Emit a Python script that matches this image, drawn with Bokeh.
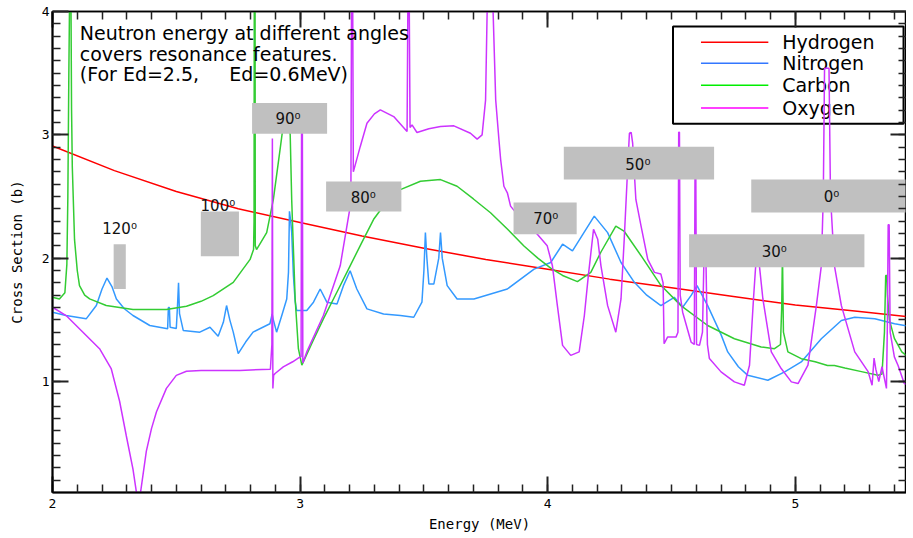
import numpy as np
from bokeh.plotting import figure
from bokeh.models import FixedTicker, LinearAxis, Range1d
from bokeh.core.properties import value
from bokeh.embed import file_html
from bokeh.resources import INLINE

# ---------------- data ----------------
hydrogen_E = [2.0, 2.25, 2.5, 2.75, 3.0, 3.25, 3.5, 3.75, 4.0, 4.25, 4.5, 4.75, 5.0, 5.25, 5.48]
hydrogen_s = [2.91, 2.71, 2.54, 2.40, 2.29, 2.18, 2.08, 1.99, 1.91, 1.83, 1.76, 1.69, 1.62, 1.57, 1.52]

carbon_E = [2.0, 2.028, 2.05, 2.058, 2.062, 2.066, 2.070, 2.074, 2.077, 2.080, 2.089, 2.10, 2.109, 2.13,
            2.15, 2.217, 2.325, 2.46, 2.541, 2.60, 2.649, 2.73, 2.798, 2.812, 2.814, 2.815, 2.818, 2.819,
            2.824, 2.865, 2.892, 2.919, 2.94, 2.955, 2.96, 2.966, 2.98, 2.993, 3.007, 3.05, 3.094, 3.15,
            3.202, 3.25, 3.297, 3.35, 3.405, 3.486, 3.567, 3.634, 3.70, 3.769, 3.84, 3.904, 3.96, 4.012,
            4.06, 4.12, 4.174, 4.215, 4.275, 4.308, 4.377, 4.457, 4.538, 4.646, 4.754, 4.862, 4.916, 4.94,
            4.945, 4.948, 4.952, 4.97, 5.024, 5.08, 5.13, 5.158, 5.20, 5.267, 5.334, 5.35, 5.36, 5.365,
            5.37, 5.372, 5.38, 5.40, 5.43, 5.48]
carbon_s = [1.683, 1.669, 1.72, 1.95, 2.5, 3.5, 4.3, 4.3, 3.2, 2.74, 2.15, 1.90, 1.777, 1.70,
            1.67, 1.616, 1.583, 1.583, 1.61, 1.65, 1.696, 1.804, 1.99, 2.07, 2.3, 4.3, 4.3, 2.1,
            2.07, 2.207, 2.476, 2.88, 3.2, 3.1, 3.0, 2.476, 1.67, 1.266, 1.132, 1.32, 1.508, 1.73,
            1.938, 2.13, 2.315, 2.46, 2.556, 2.624, 2.637, 2.583, 2.48, 2.368, 2.23, 2.099, 2.00, 1.92,
            1.86, 1.81, 1.885, 2.05, 2.26, 2.22, 2.02, 1.78, 1.615, 1.454, 1.347, 1.28, 1.266, 1.30,
            1.6, 2.05, 1.4, 1.24, 1.185, 1.16, 1.13, 1.13, 1.11, 1.08, 1.05, 1.06, 1.4, 1.86,
            1.86, 1.7, 1.5, 1.35, 1.24, 1.16]

nitrogen_E = [2.0, 2.055, 2.136, 2.177, 2.20, 2.22, 2.24, 2.258, 2.29, 2.325, 2.393, 2.465, 2.468, 2.472,
              2.475, 2.50, 2.505, 2.509, 2.513, 2.528, 2.595, 2.636, 2.669, 2.69, 2.703, 2.716, 2.73, 2.75,
              2.78, 2.81, 2.878, 2.884, 2.887, 2.892, 2.905, 2.926, 2.946, 2.953, 2.957, 2.962, 2.966, 2.973,
              2.98, 2.986, 3.027, 3.054, 3.081, 3.108, 3.149, 3.175, 3.202, 3.229, 3.27, 3.337, 3.405, 3.459,
              3.492, 3.50, 3.506, 3.512, 3.52, 3.54, 3.56, 3.567, 3.574, 3.594, 3.634, 3.702, 3.837, 3.945,
              4.012, 4.06, 4.10, 4.188, 4.242, 4.296, 4.35, 4.40, 4.457, 4.511, 4.545, 4.58, 4.603, 4.646,
              4.70, 4.727, 4.77, 4.808, 4.889, 4.957, 5.024, 5.105, 5.186, 5.24, 5.321, 5.401, 5.48]
nitrogen_s = [1.562, 1.535, 1.508, 1.616, 1.75, 1.839, 1.77, 1.669, 1.59, 1.535, 1.454, 1.427, 1.60, 1.60,
              1.44, 1.43, 1.62, 1.80, 1.55, 1.414, 1.40, 1.44, 1.366, 1.48, 1.616, 1.50, 1.40, 1.226,
              1.32, 1.40, 1.468, 1.52, 1.548, 1.50, 1.40, 1.535, 1.669, 1.885, 2.38, 2.30, 2.21, 1.857,
              1.65, 1.575, 1.575, 1.643, 1.75, 1.643, 1.629, 1.777, 1.898, 1.75, 1.589, 1.548, 1.535, 1.521,
              1.643, 1.9, 2.207, 2.0, 1.79, 1.79, 2.0, 2.207, 2.0, 1.777, 1.669, 1.669, 1.75, 1.911,
              1.965, 2.113, 2.059, 2.341, 2.207, 1.965, 1.804, 1.70, 1.615, 1.683, 1.602, 1.70, 1.777, 1.615,
              1.38, 1.24, 1.12, 1.05, 1.01, 1.078, 1.159, 1.347, 1.495, 1.521, 1.508, 1.468, 1.44]

oxygen_E = [2.0, 2.055, 2.123, 2.19, 2.237, 2.271, 2.298, 2.325, 2.345, 2.352, 2.379, 2.40, 2.42, 2.46,
            2.50, 2.541, 2.60, 2.757, 2.88, 2.886, 2.888, 2.890, 2.893, 2.899, 2.932, 2.97, 3.0, 3.004,
            3.006, 3.009, 3.011, 3.027, 3.094, 3.162, 3.189, 3.205, 3.208, 3.212, 3.215, 3.243, 3.27, 3.30,
            3.324, 3.378, 3.432, 3.436, 3.440, 3.444, 3.452, 3.472, 3.52, 3.567, 3.621, 3.688, 3.715, 3.735,
            3.749, 3.758, 3.775, 3.79, 3.803, 3.81, 3.823, 3.837, 3.85, 3.904, 3.958, 3.998, 4.019, 4.039,
            4.06, 4.093, 4.127, 4.148, 4.164, 4.185, 4.202, 4.215, 4.242, 4.275, 4.296, 4.309, 4.32, 4.33,
            4.337, 4.343, 4.356, 4.377, 4.404, 4.431, 4.457, 4.466, 4.47, 4.484, 4.518, 4.526, 4.529, 4.532,
            4.535, 4.545, 4.579, 4.592, 4.595, 4.598, 4.601, 4.613, 4.625, 4.632, 4.638, 4.645, 4.653, 4.70,
            4.754, 4.794, 4.815, 4.831, 4.842, 4.849, 4.855, 4.869, 4.903, 4.943, 4.984, 5.011, 5.051, 5.085,
            5.105, 5.113, 5.118, 5.136, 5.142, 5.158, 5.186, 5.24, 5.294, 5.31, 5.318, 5.325, 5.337, 5.35,
            5.368, 5.372, 5.375, 5.379, 5.383, 5.40, 5.415, 5.44, 5.48]
oxygen_s = [1.602, 1.535, 1.40, 1.266, 1.105, 0.84, 0.56, 0.29, 0.02, 0.05, 0.435, 0.62, 0.755, 0.944,
            1.05, 1.083, 1.09, 1.09, 1.10, 1.3, 2.97, 0.944, 1.05, 1.065, 1.118, 1.16, 1.199, 1.20,
            3.2, 3.2, 1.15, 1.24, 1.535, 1.938, 2.26, 2.45, 4.3, 4.3, 2.7, 2.906, 3.094, 3.17,
            3.202, 3.148, 3.027, 4.3, 4.3, 3.06, 3.081, 3.019, 3.05, 3.067, 3.073, 3.013, 2.965, 3.0,
            3.282, 4.3, 4.3, 3.28, 2.96, 2.798, 2.583, 2.53, 2.422, 2.288, 2.194, 2.10, 1.938, 1.615,
            1.293, 1.212, 1.24, 1.535, 1.857, 2.234, 2.153, 1.938, 1.615, 1.40, 1.669, 2.153, 2.61, 3.013,
            3.02, 2.933, 2.476, 2.26, 1.99, 1.885, 1.871, 1.80, 1.306, 1.36, 1.36, 1.40, 3.02, 3.02,
            1.70, 1.562, 1.32, 1.30, 2.75, 2.75, 1.30, 1.293, 1.4, 2.1, 2.1, 1.3, 1.186, 1.078,
            0.997, 0.97, 1.132, 1.669, 2.0, 2.05, 1.938, 1.669, 1.24, 1.105, 0.997, 0.983, 1.132, 1.615,
            1.938, 2.5, 3.54, 3.54, 2.5, 1.938, 1.615, 1.24, 1.08, 0.97, 1.19, 1.10, 1.0, 1.12,
            0.944, 1.5, 2.27, 2.27, 1.4, 1.20, 1.13, 0.983, 0.96]

series_names = ["Hydrogen", "Nitrogen", "Carbon", "Oxygen"]
series_colors = ["#ff0000", "#3399ff", "#33cc33", "#cc33ff"]
legend_colors = ["#ff0000", "#3377ff", "#00ee00", "#ff00ff"]

# angle markers (grey boxes): label, energy span, cross-section span, label anchor
angle_labels = ["120\u2070", "100\u2070", "90\u2070", "80\u2070", "70\u2070", "50\u2070", "30\u2070", "0\u2070"]
angle_left = [2.247, 2.599, 2.806, 3.105, 3.862, 4.065, 4.571, 4.822]
angle_right = [2.296, 2.753, 3.109, 3.409, 4.117, 4.672, 5.279, 5.478]
angle_bottom = [1.75, 2.016, 3.008, 2.379, 2.194, 2.637, 1.927, 2.371]
angle_top = [2.113, 2.379, 3.258, 2.621, 2.452, 2.903, 2.194, 2.637]
angle_label_x = [2.271, 2.668, 2.951, 3.255, 3.992, 4.364, 4.915, 5.146]
angle_label_y = [2.234, 2.419, 3.129, 2.484, 2.315, 2.758, 2.048, 2.492]

note_lines = ["Neutron energy at different angles",
              "covers resonance features.",
              "(For Ed=2.5,\u00a0\u00a0\u00a0\u00a0\u00a0Ed=0.6MeV)"]

x_major = [2, 3, 4, 5]
y_major = [1, 2, 3, 4]

# ---------------- figure ----------------
p = figure(width=906, height=536, x_range=Range1d(2.0, 5.449), y_range=Range1d(0.1, 4.0),
           output_backend="svg", toolbar_location=None,
           min_border_left=52, min_border_right=0, min_border_top=11, min_border_bottom=44)
p.grid.visible = False
p.outline_line_color = "black"
p.outline_line_width = 1.5
p.background_fill_color = "white"
p.border_fill_color = "white"

xt = FixedTicker(ticks=x_major, minor_ticks=list(np.round(np.arange(2.0, 5.5, 0.1), 2)))
yt = FixedTicker(ticks=y_major, minor_ticks=list(np.round(np.arange(0.2, 4.0, 0.1), 2)))

def style_axis(ax, ticker, show_labels):
    ax.ticker = ticker
    ax.major_tick_in = 16
    ax.major_tick_out = 0
    ax.minor_tick_in = 8
    ax.minor_tick_out = 0
    ax.axis_line_color = "black"
    ax.axis_line_width = 2
    ax.major_tick_line_color = "#222222"
    ax.major_tick_line_width = 2
    ax.minor_tick_line_color = "#222222"
    ax.minor_tick_line_width = 1.5
    if show_labels:
        ax.major_label_text_font = "DejaVu Sans Mono"
        ax.major_label_text_font_size = "13px"
        ax.major_label_text_color = "black"
        ax.major_label_standoff = 3
        ax.axis_label_text_font = "DejaVu Sans Mono"
        ax.axis_label_text_font_size = "14px"
        ax.axis_label_text_font_style = "normal"
        ax.axis_label_text_color = "black"
    else:
        ax.major_label_text_font_size = "1px"
        ax.major_label_text_color = None
        ax.major_label_standoff = 0
        ax.axis_label = None

style_axis(p.xaxis[0], xt, True)
p.xaxis[0].axis_label = "Energy (MeV)"
p.xaxis[0].major_label_standoff = 6
p.xaxis[0].axis_label_standoff = 5
style_axis(p.yaxis[0], yt, True)
p.yaxis[0].axis_label = "Cross Section (b)"
p.yaxis[0].axis_label_standoff = 14

top_ax = LinearAxis()
style_axis(top_ax, xt, False)
top_ax.axis_line_width = 1.5
p.add_layout(top_ax, "above")
right_ax = LinearAxis()
style_axis(right_ax, yt, False)
p.add_layout(right_ax, "right")

# ---------------- legend (drawn beneath the curves, as in the reference) ----------------
lg_left, lg_right, lg_top, lg_bottom = 4.506, 5.437, 3.879, 3.089
p.quad(left=[lg_left], right=[lg_right], top=[lg_top], bottom=[lg_bottom],
       fill_color="white", line_color="black", line_width=2)
row_y = [3.75, 3.581, 3.403, 3.218]
p.segment(x0=[4.619] * 4, x1=[4.891] * 4, y0=row_y, y1=row_y, line_color=legend_colors, line_width=1.5)
p.text(x=[4.947] * 4, y=row_y, text=series_names, text_font=value("DejaVu Sans"),
       text_font_size="19px", text_baseline="middle", text_color="black")

# ---------------- curves ----------------
data = [(hydrogen_E, hydrogen_s), (nitrogen_E, nitrogen_s), (carbon_E, carbon_s), (oxygen_E, oxygen_s)]
for (ex, sy), c in zip(data, series_colors):
    p.line(ex, sy, line_color=c, line_width=1.5)

# ---------------- angle boxes ----------------
p.quad(left=angle_left, right=angle_right, top=angle_top, bottom=angle_bottom,
       fill_color="#c0c0c0", line_color=None)
p.text(x=angle_label_x, y=angle_label_y, text=angle_labels, text_font=value("DejaVu Sans"),
       text_font_size="15px", text_align="center", text_baseline="middle", text_color="#111111")

# ---------------- note ----------------
p.text(x=[2.11] * 3, y=[3.823, 3.653, 3.492], text=note_lines, text_font=value("DejaVu Sans"),
       text_font_size="19px", text_baseline="middle", text_color="black")

open("out.html", "w").write(file_html(p, INLINE))
